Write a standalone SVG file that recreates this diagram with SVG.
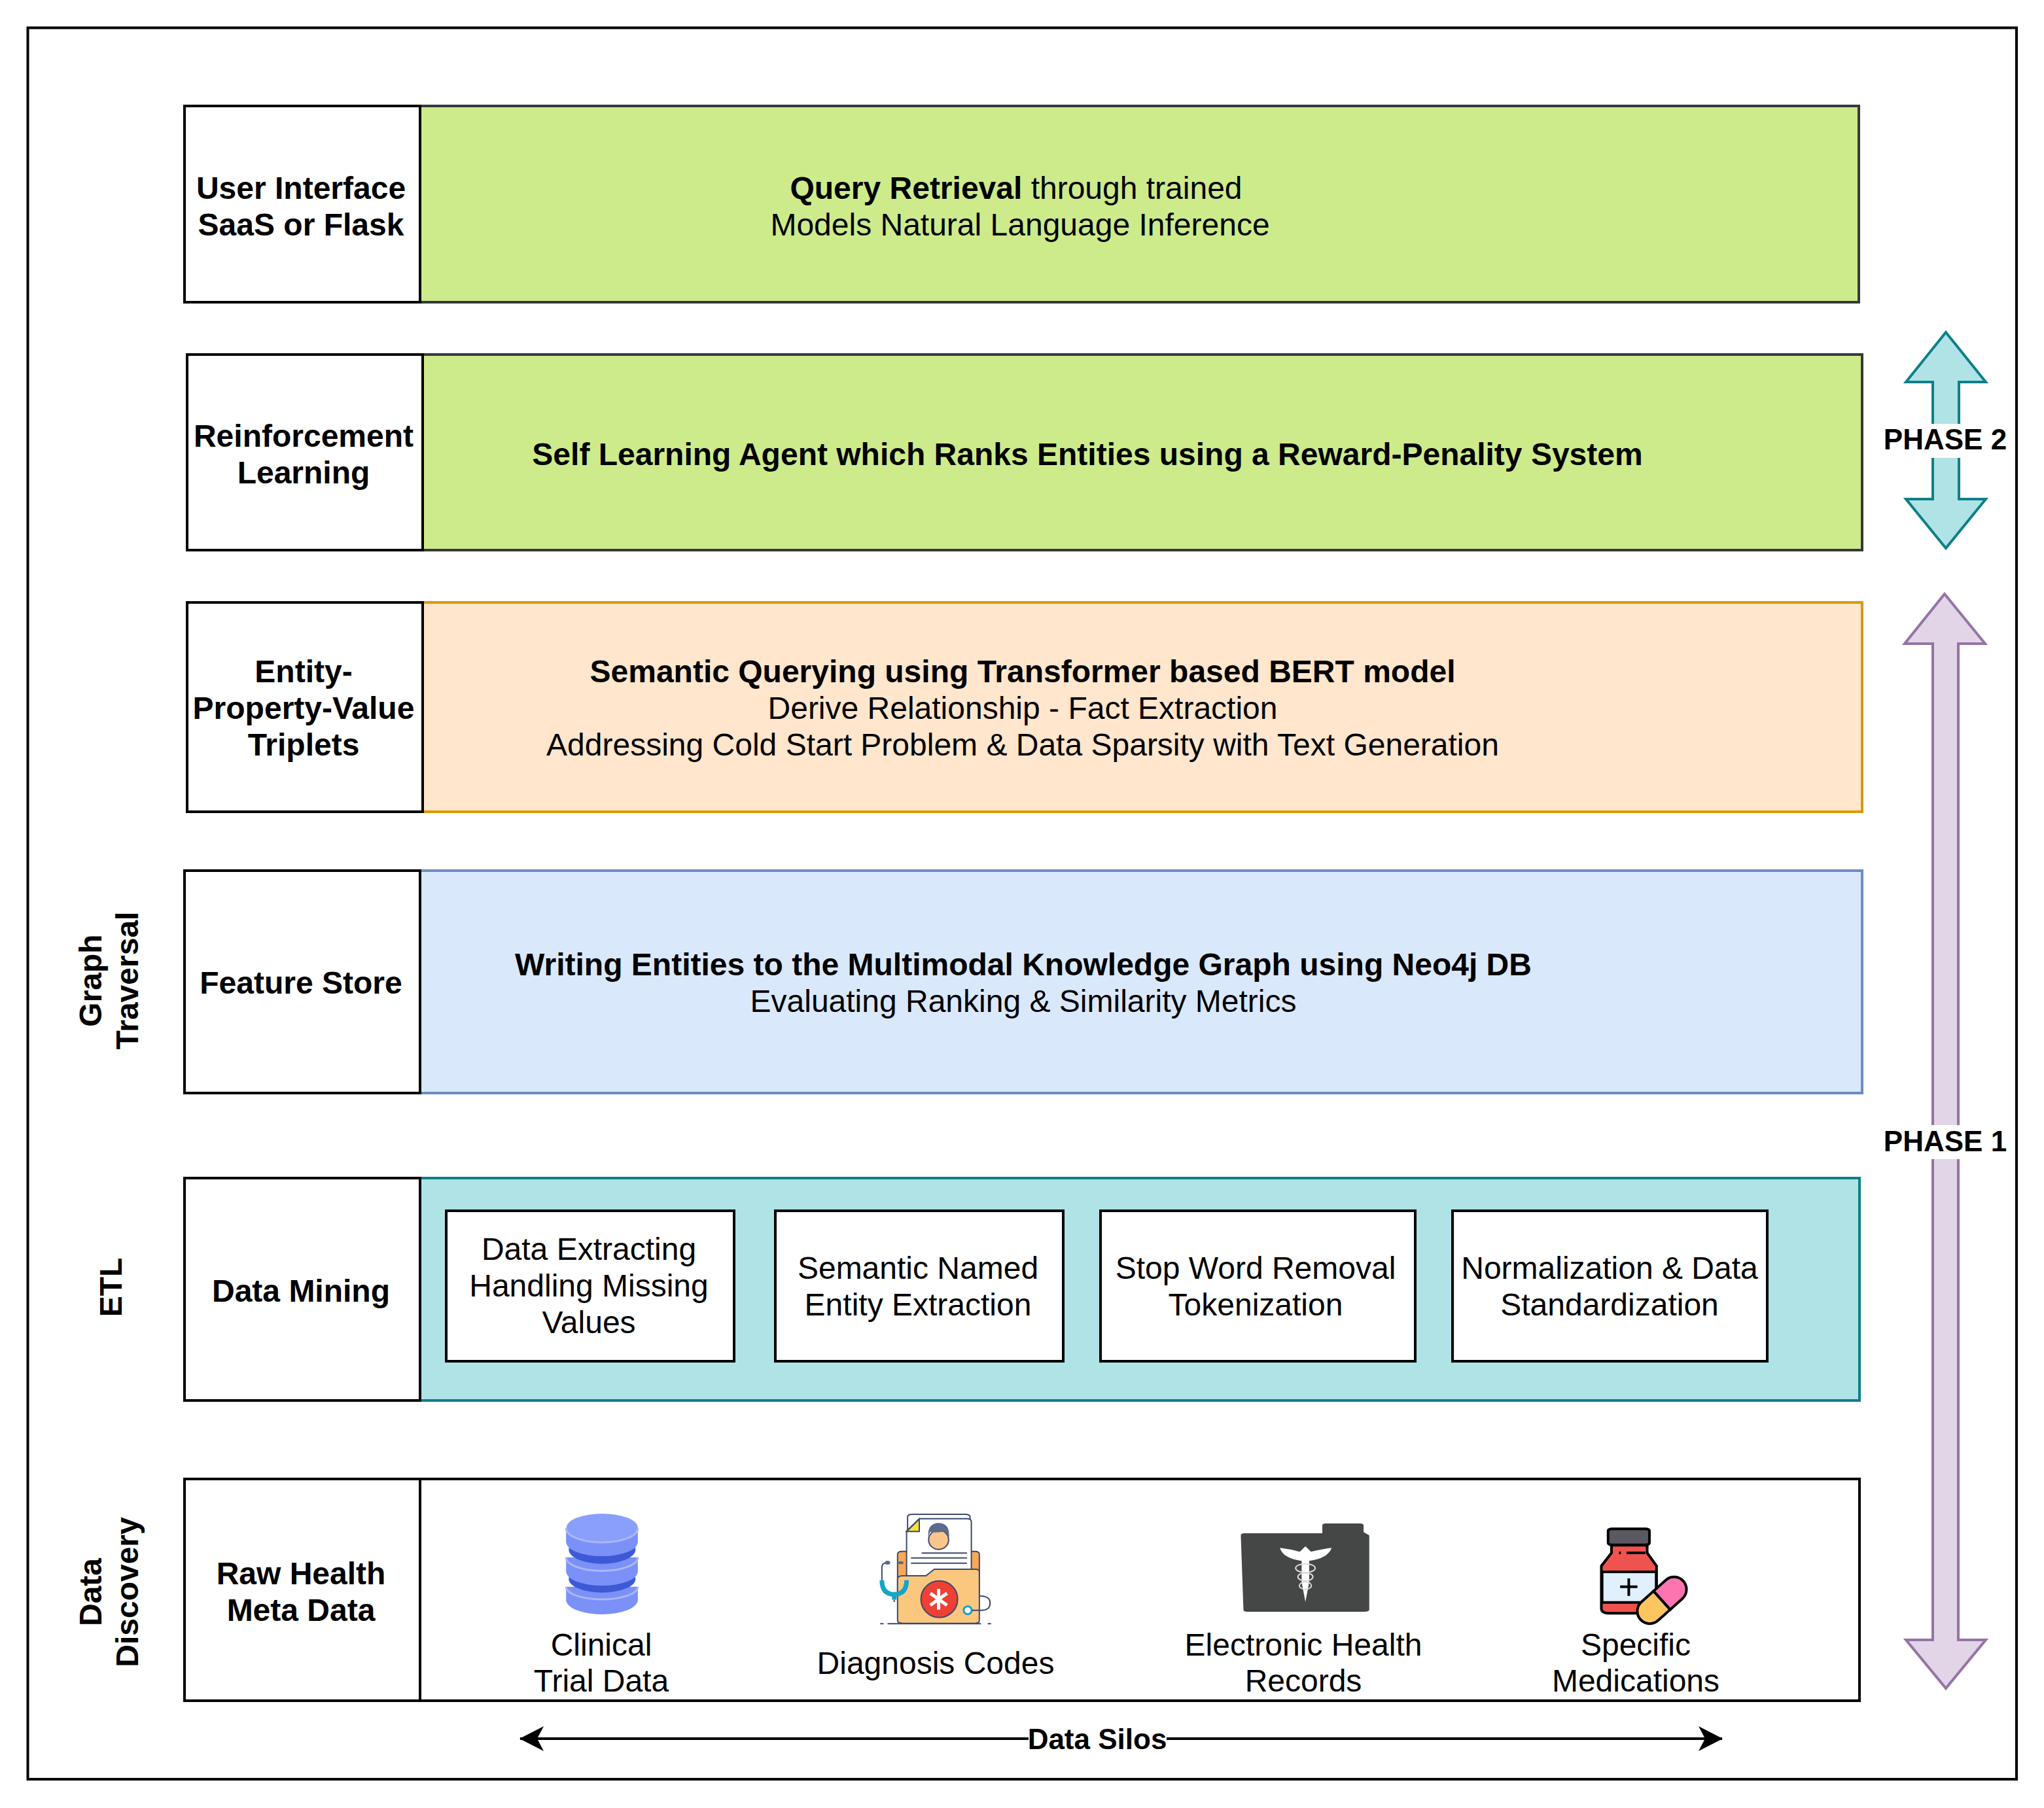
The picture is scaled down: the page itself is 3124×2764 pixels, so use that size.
<svg xmlns="http://www.w3.org/2000/svg" width="3124" height="2764" viewBox="0 0 3124 2764">
<style>
text{font-family:"Liberation Sans",Arial,Helvetica,sans-serif;font-size:48px;fill:#000;text-anchor:middle}
.b{font-weight:bold}
.ph{font-size:44px}
.box{stroke:#000;stroke-width:4;fill:#fff}
.green{fill:#cdeb8b;stroke:#36393d;stroke-width:4}
.orange{fill:#ffe6cc;stroke:#d79b00;stroke-width:4}
.blue{fill:#dae8fc;stroke:#6c8ebf;stroke-width:4}
.teal{fill:#b0e3e6;stroke:#0e8088;stroke-width:4}
.purple{fill:#e1d5e7;stroke:#9673a6;stroke-width:4}
.ns{vector-effect:non-scaling-stroke}
.nv{stroke:#3b4a6e;stroke-width:2;vector-effect:non-scaling-stroke}
</style>
<defs>
<marker id="head" markerUnits="userSpaceOnUse" viewBox="0 0 37 38" markerWidth="37" markerHeight="38" refX="36" refY="19" orient="auto-start-reverse"><path d="M37 19L0 38L10 19L0 0Z" fill="#000"/></marker>
<filter id="soft" x="-5%" y="-5%" width="110%" height="110%"><feGaussianBlur stdDeviation="1"/></filter>
</defs>
<rect width="3124" height="2764" fill="#fff"/>
<rect id="frame" x="42.5" y="42.5" width="3039.5" height="2677.5" fill="none" stroke="#000" stroke-width="4"/>

<g id="row-ui">
<rect class="green" x="642" y="162" width="2199" height="300"/>
<rect class="box" x="282" y="162" width="360" height="300"/>
<text class="b" x="460" y="303.5">User Interface</text><text class="b" x="460" y="359.5">SaaS or Flask</text>
<text x="1553" y="303.5"><tspan class="b">Query Retrieval</tspan> through trained</text><text x="1559" y="359.5">Models Natural Language Inference</text>
</g>
<g id="row-rl">
<rect class="green" x="646" y="542" width="2200" height="299"/>
<rect class="box" x="286" y="542" width="360" height="299"/>
<text class="b" x="464" y="683">Reinforcement</text><text class="b" x="464" y="739">Learning</text>
<text class="b" x="1662" y="711">Self Learning Agent which Ranks Entities using a Reward-Penality System</text>
</g>
<g id="row-triplets">
<rect class="orange" x="646" y="921" width="2200" height="320"/>
<rect class="box" x="286" y="921" width="360" height="320"/>
<text class="b" x="464" y="1043">Entity-</text><text class="b" x="464" y="1099">Property-Value</text><text class="b" x="464" y="1155">Triplets</text>
<text class="b" x="1563" y="1043">Semantic Querying using Transformer based BERT model</text>
<text x="1563" y="1099">Derive Relationship - Fact Extraction</text>
<text x="1563" y="1155">Addressing Cold Start Problem &amp; Data Sparsity with Text Generation</text>
</g>
<g id="row-feature">
<rect class="blue" x="642" y="1331" width="2204" height="340"/>
<rect class="box" x="282" y="1331" width="360" height="340"/>
<text class="b" x="460" y="1518.5">Feature Store</text>
<text class="b" x="1564" y="1491">Writing Entities to the Multimodal Knowledge Graph using Neo4j DB</text>
<text x="1564" y="1547">Evaluating Ranking &amp; Similarity Metrics</text>
</g>
<g id="row-mining">
<rect class="teal" x="642" y="1801" width="2200" height="340"/>
<rect class="box" x="282" y="1801" width="360" height="340"/>
<text class="b" x="460" y="1990">Data Mining</text>
</g>
<g id="box-extract"><rect class="box" x="682" y="1851" width="440" height="230"/>
<text x="900" y="1926">Data Extracting</text><text x="900" y="1982">Handling Missing</text><text x="900" y="2038">Values</text></g>
<g id="box-ner"><rect class="box" x="1185" y="1851" width="440" height="230"/>
<text x="1403" y="1955">Semantic Named</text><text x="1403" y="2011">Entity Extraction</text></g>
<g id="box-stop"><rect class="box" x="1682" y="1851" width="481" height="230"/>
<text x="1919" y="1955">Stop Word Removal</text><text x="1919" y="2011">Tokenization</text></g>
<g id="box-norm"><rect class="box" x="2220" y="1851" width="481" height="230"/>
<text x="2460" y="1955">Normalization &amp; Data</text><text x="2460" y="2011">Standardization</text></g>
<g id="row-raw">
<rect class="box" x="642" y="2261" width="2200" height="339"/>
<rect class="box" x="282" y="2261" width="360" height="339"/>
<text class="b" x="460" y="2422">Raw Health</text><text class="b" x="460" y="2478">Meta Data</text>
</g>

<g id="side-graph"><text class="b" transform="translate(155 1499) rotate(-90)">Graph</text><text class="b" transform="translate(211 1499) rotate(-90)">Traversal</text></g>
<g id="side-etl"><text class="b" transform="translate(186 1968) rotate(-90)">ETL</text></g>
<g id="side-discovery"><text class="b" transform="translate(155 2434) rotate(-90)">Data</text><text class="b" transform="translate(211 2434) rotate(-90)">Discovery</text></g>

<g id="clinical">
<g transform="translate(780 2279) scale(.5102 .3333)">
<path d="M167 440V500A107 67 0 0 0 382 500V440Z" fill="#7b91f8"/>
<ellipse cx="275" cy="405" rx="100" ry="62" fill="#3d59d5"/>
<path d="M167 305V370A107 65 0 0 0 382 370V305Z" fill="#7b91f8"/>
<ellipse cx="275" cy="270" rx="100" ry="65" fill="#3d59d5"/>
<path d="M167 170V235A107 65 0 0 0 382 235V170Z" fill="#7b91f8"/>
<ellipse cx="275" cy="170" rx="107" ry="65" fill="#8a9ffa"/>
<path d="M167 172A107 65 0 0 0 382 172M167 305A107 62 0 0 0 382 305M167 440A107 58 0 0 0 382 440" fill="none" stroke="#a9b7fb" stroke-width="3" class="ns"/>
</g>
<text x="919" y="2530.5">Clinical</text><text x="919" y="2586">Trial Data</text>
</g>

<g id="diagnosis">
<g transform="translate(780 2279) scale(.5102 .3333)">
<rect x="1190" y="108" width="187" height="200" rx="14" ry="10" fill="#fff" class="nv"/>
<rect x="1160" y="278" width="245" height="200" rx="12" ry="12" fill="#f8a955" class="nv"/>
<path d="M1187 185L1225 128H1368Q1381 128 1381 142V400H1187Z" fill="#fff" class="nv"/>
<path d="M1187 187H1225V130Z" fill="#f8df3b" class="nv"/>
<ellipse cx="1283" cy="225" rx="30" ry="44" fill="#f9c58a" class="nv"/>
<path d="M1252 215Q1248 148 1284 148Q1318 150 1314 215Q1310 190 1295 188Q1270 195 1258 188Q1254 198 1252 215Z" fill="#5e6a8c"/>
<path d="M1232 286H1368M1200 308H1368M1200 332H1368" fill="none" class="nv"/>
<path d="M1160 405Q1160 390 1175 390H1245L1270 360H1393Q1405 360 1405 372V595Q1405 608 1392 608H1175Q1160 608 1160 595Z" fill="#fbc77f" class="nv"/>
<ellipse cx="1285" cy="497" rx="55" ry="84" fill="#ee4035" class="nv"/>
<path d="M1283 450V545M1258 470L1308 525M1258 525L1308 470" fill="none" stroke="#fff" stroke-width="5" class="ns"/>
<path d="M1113 410V350Q1113 330 1130 330M1150 500V510" fill="none" class="nv"/>
<path d="M1113 410Q1113 475 1150 475Q1187 475 1187 410" fill="none" stroke="#18a4c8" stroke-width="7" class="ns"/>
<path d="M1150 475V500" fill="none" stroke="#18a4c8" stroke-width="7" class="ns"/>
<ellipse cx="1130" cy="330" rx="8" ry="9" fill="#5e6a8c"/><ellipse cx="1170" cy="330" rx="8" ry="7" fill="#5e6a8c"/>
<ellipse cx="1370" cy="548" rx="12" ry="18" fill="#fff" stroke="#18a4c8" stroke-width="3" class="ns"/>
<path d="M1382 548H1415Q1438 545 1437 515Q1438 483 1405 482" fill="none" class="nv"/>
<path d="M1108 610H1118M1130 610H1410M1430 610H1440" fill="none" class="nv"/>
</g>
<text x="1430" y="2558.5">Diagnosis Codes</text>
</g>

<g id="ehr">
<g transform="translate(1800 2279) scale(.574 .3333)">
<path d="M385 195V160Q385 150 395 150H485Q495 150 495 160V190L510 205V545Q510 555 495 555H185Q175 555 175 545L168 205Q168 195 178 195Z" fill="#444746" filter="url(#soft)"/>
<path d="M272 262Q300 268 325 280L340 255L355 280Q385 268 410 262Q400 310 350 322V420L340 510L330 420V322Q280 310 272 262Z" fill="#fff" filter="url(#soft)"/>
<ellipse cx="340" cy="355" rx="26" ry="20" fill="none" stroke="#ddd" stroke-width="2" class="ns"/>
<ellipse cx="340" cy="395" rx="20" ry="18" fill="none" stroke="#ddd" stroke-width="2" class="ns"/>
<ellipse cx="340" cy="435" rx="16" ry="17" fill="none" stroke="#ddd" stroke-width="2" class="ns"/>
</g>
<text x="1992" y="2530.5">Electronic Health</text><text x="1992" y="2586">Records</text>
</g>

<g id="medications">
<g transform="translate(1800 2279) scale(.574 .3333)">
<path d="M1155 250V285L1128 345V540Q1128 562 1150 562H1250Q1275 562 1275 540V345L1250 285V250Z" fill="#ef5350" stroke="#000" stroke-width="4" class="ns"/>
<rect x="1130" y="372" width="144" height="140" fill="#e0f0fd" stroke="#000" stroke-width="4" class="ns"/>
<rect x="1146" y="175" width="110" height="73" rx="10" ry="8" fill="#5a5860" stroke="#000" stroke-width="4" class="ns"/>
<path d="M1175 285H1180M1195 285H1245" fill="none" stroke="#000" stroke-width="4" class="ns"/>
<path d="M1201 402V482M1178 440H1224" fill="none" stroke="#000" stroke-width="4" class="ns"/>
</g>
<g transform="translate(2540 2446.5) rotate(-42)">
<path d="M0 -19H-25A19 19 0 0 0 -25 19H0Z" fill="#fdc55f" stroke="#000" stroke-width="4"/>
<path d="M0 -19H25A19 19 0 0 1 25 19H0Z" fill="#fd74b1" stroke="#000" stroke-width="4"/>
</g>
<text x="2500" y="2530.5">Specific</text><text x="2500" y="2586">Medications</text>
</g>

<g id="phase-2">
<path class="teal" d="M2974 508L3035 584H2994V763H3035L2974 838L2913 763H2954V584H2913Z"/>
<rect x="2880" y="648" width="187" height="52" fill="#fff"/>
<text class="b ph" x="2973" y="687">PHASE 2</text>
</g>
<g id="phase-1">
<path class="purple" d="M2972 908L3034 984H2993V2507H3035L2974 2581L2913 2507H2954V984H2911Z"/>
<rect x="2880" y="1720" width="187" height="52" fill="#fff"/>
<text class="b ph" x="2973" y="1760">PHASE 1</text>
</g>

<g id="connectors">
<line x1="795" y1="2658" x2="2632" y2="2658" stroke="#000" stroke-width="4" marker-start="url(#head)" marker-end="url(#head)"/>
<rect x="1572" y="2635" width="211" height="46" fill="#fff"/>
<text class="b ph" x="1677" y="2674">Data Silos</text>
</g>
</svg>
